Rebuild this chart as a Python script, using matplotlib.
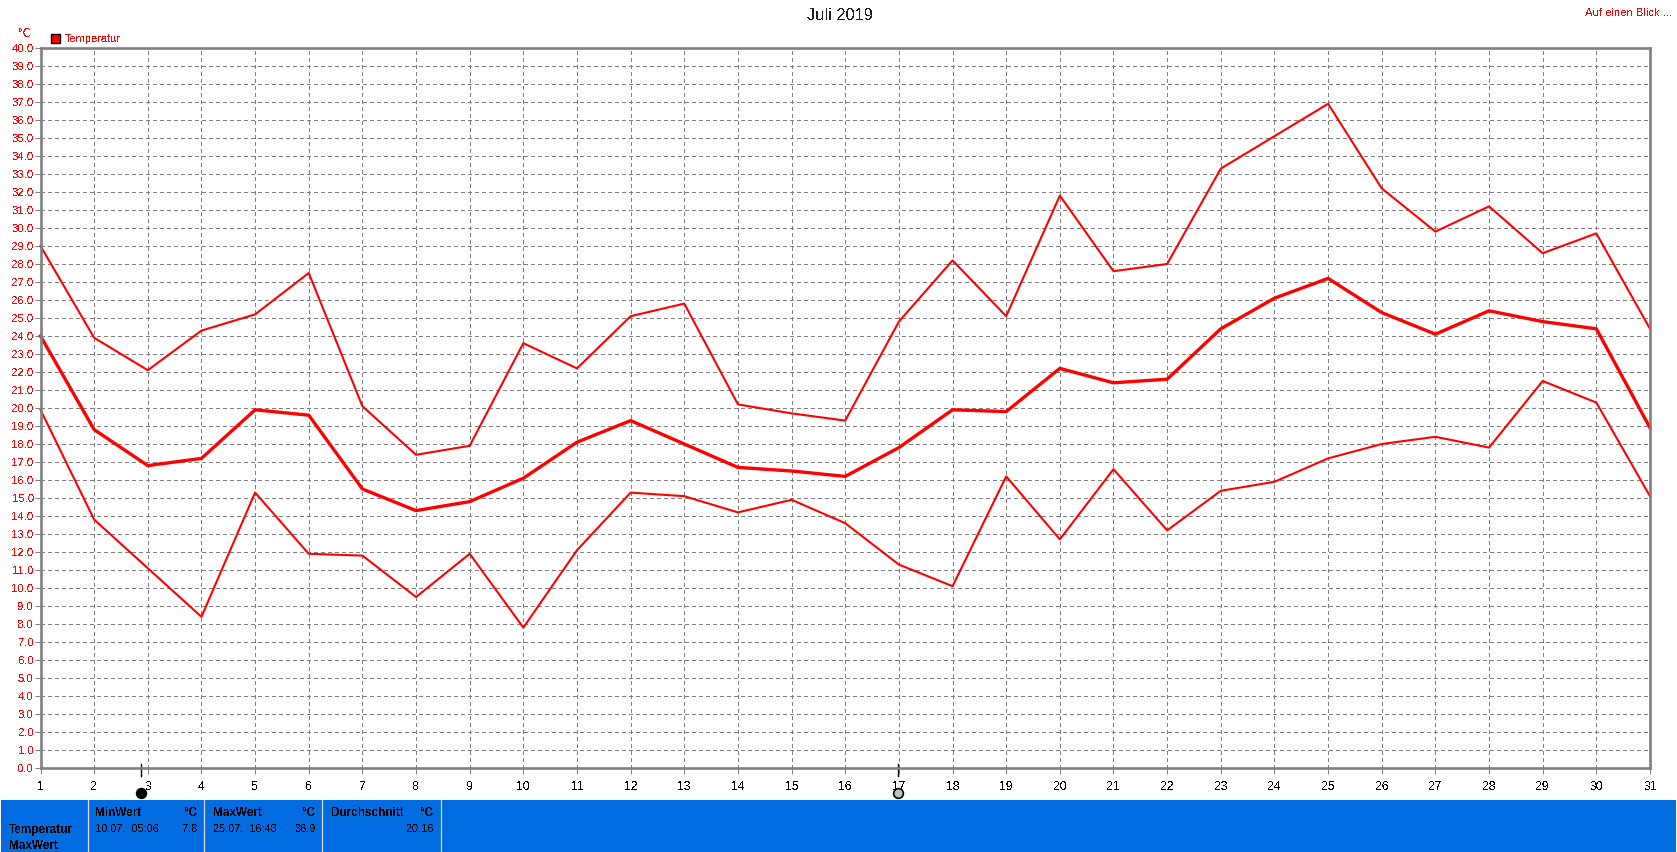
import matplotlib
matplotlib.use('Agg')
import matplotlib.pyplot as plt

plt.rcParams['font.family'] = ['Liberation Sans', 'DejaVu Sans']
plt.rcParams['text.antialiased'] = False

# Tageswerte Juli 2019
days = list(range(1, 32))
temp_max = [29.0, 23.9, 22.1, 24.3, 25.2, 27.5, 20.1, 17.4, 17.9, 23.6, 22.2, 25.1, 25.8, 20.2, 19.7, 19.3,
            24.8, 28.2, 25.1, 31.8, 27.6, 28.0, 33.3, 35.1, 36.9, 32.2, 29.8, 31.2, 28.6, 29.7, 24.4]
temp_avg = [24.0, 18.8, 16.8, 17.2, 19.9, 19.6, 15.5, 14.3, 14.8, 16.1, 18.1, 19.3, 18.0, 16.7, 16.5, 16.2,
            17.8, 19.9, 19.8, 22.2, 21.4, 21.6, 24.4, 26.1, 27.2, 25.3, 24.1, 25.4, 24.8, 24.4, 18.9]
temp_min = [19.9, 13.8, 11.1, 8.4, 15.3, 11.9, 11.8, 9.5, 11.9, 7.8, 12.1, 15.3, 15.1, 14.2, 14.9, 13.6,
            11.3, 10.1, 16.2, 12.7, 16.6, 13.2, 15.4, 15.9, 17.2, 18.0, 18.4, 17.8, 21.5, 20.3, 15.1]
y_ticks = list(range(0, 41))
new_moon_day = 2.88
full_moon_day = 16.98

W, H = 1677, 852
RED = '#ff0000'
GREY = '#808080'
BLUE = '#006cdf'

fig = plt.figure(figsize=(W / 100, H / 100), dpi=100, facecolor='white')
ax = fig.add_axes([40.5 / W, 1 - 768 / H, 1609.5 / W, 720 / H])
ax.set_xlim(1, 31)
ax.set_ylim(0, 40)

ax.grid(True, color=GREY, linewidth=0.72, linestyle=(0, (4, 3)), antialiased=False)
ax.set_axisbelow(True)
ax.set_xticks(days)
ax.set_yticks(y_ticks)
ax.set_yticklabels(['%.1f' % v for v in y_ticks])
ax.tick_params(axis='x', length=4.5, width=0.72, color=GREY, labelsize=8.8, labelcolor='black', pad=5)
ax.tick_params(axis='y', length=4, width=0.72, color=GREY, labelsize=8.2, labelcolor=RED, pad=0.8)
for s in ax.spines.values():
    s.set_color(GREY)
    s.set_linewidth(1.9)

ax.plot(days, temp_max, color=RED, linewidth=1.5, clip_on=False)
ax.plot(days, temp_min, color=RED, linewidth=1.5, clip_on=False)
ax.plot(days, temp_avg, color=RED, linewidth=2.4, clip_on=False)

# Mondphasen unter der x-Achse
trans = ax.get_xaxis_transform()
for day, face in [(new_moon_day, 'black'), (full_moon_day, '#c0c0c0')]:
    ax.plot([day, day], [0.006, -0.011], color='black', linewidth=1, transform=trans, clip_on=False)
    ax.plot([day], [-0.035], marker='o', markersize=7, markerfacecolor=face, markeredgecolor='black',
            markeredgewidth=1.2, transform=trans, clip_on=False)

# Ueberlagerung in Pixelkoordinaten fuer Kopf und Fussleiste
ov = fig.add_axes([0, 0, 1, 1], facecolor='none')
ov.set_xlim(0, W)
ov.set_ylim(H, 0)
ov.axis('off')

ov.text(840, 16, 'Juli 2019', fontsize=11.8, color='#202020', ha='center', va='center')
ov.text(1672, 13, 'Auf einen Blick ...', fontsize=8.1, color=RED, ha='right', va='center')
ov.text(25, 34, '°C', fontsize=8.5, color=RED, ha='center', va='center')
ov.add_patch(plt.Rectangle((51, 33.5), 9, 9, facecolor=RED, edgecolor='black', linewidth=1))
ov.text(65, 39, 'Temperatur', fontsize=7.9, color=RED, ha='left', va='center')

ov.add_patch(plt.Rectangle((1, 800), 1675, 52, facecolor=BLUE, edgecolor='none'))
for x in [88, 204, 322, 441]:
    ov.plot([x, x], [800, 852], color='#d8d8d8', linewidth=0.9)

ov.text(9, 830, 'Temperatur', fontsize=8.5, fontweight='bold', va='center')
ov.text(9, 846, 'MaxWert', fontsize=8.5, fontweight='bold', va='center')

ov.text(95, 813.5, 'MinWert', fontsize=8.5, fontweight='bold', va='center')
ov.text(198, 813.5, '°C', fontsize=8.5, fontweight='bold', va='center', ha='right')
ov.text(95, 829.5, '10.07.  05:06', fontsize=7.9, va='center')
ov.text(198, 829.5, '7.8', fontsize=7.9, va='center', ha='right')

ov.text(213, 813.5, 'MaxWert', fontsize=8.5, fontweight='bold', va='center')
ov.text(316, 813.5, '°C', fontsize=8.5, fontweight='bold', va='center', ha='right')
ov.text(213, 829.5, '25.07.  16:48', fontsize=7.9, va='center')
ov.text(316, 829.5, '36.9', fontsize=7.9, va='center', ha='right')

ov.text(331, 813.5, 'Durchschnitt', fontsize=8.5, fontweight='bold', va='center')
ov.text(434, 813.5, '°C', fontsize=8.5, fontweight='bold', va='center', ha='right')
ov.text(434, 829.5, '20.16', fontsize=7.9, va='center', ha='right')

fig.savefig('out.png', dpi=100, facecolor='white')
